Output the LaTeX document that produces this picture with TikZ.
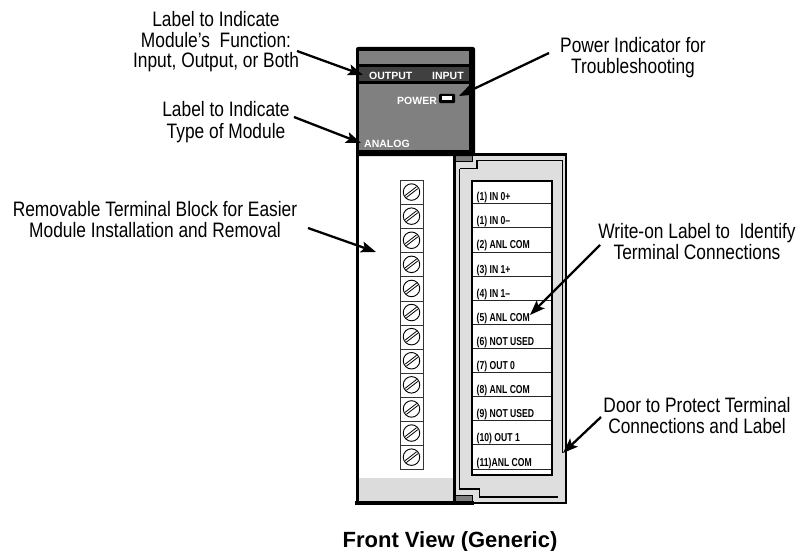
\documentclass[tikz,border=0pt]{standalone}
\usepackage{fontspec}
\setmainfont{Liberation Sans}
\newfontfamily\lblfont[FakeStretch=0.83]{Liberation Sans}
\newfontfamily\cardfont[FakeStretch=0.75]{Liberation Sans}
\usetikzlibrary{arrows.meta}
\definecolor{modgray}{HTML}{808080}
\definecolor{banddark}{HTML}{404040}
\definecolor{doorgray}{HTML}{DEDEDE}
\definecolor{basegray}{HTML}{DCDCDC}
\tikzset{
  callout/.style={inner sep=0pt,align=center,anchor=base,font=\lblfont\fontsize{20.9}{21}\selectfont,text=black},
  leader/.style={line width=2.3pt,-{Stealth[length=15pt,width=11pt,inset=3pt]},black},
  paneltext/.style={inner sep=0pt,anchor=base west,text=white,font=\bfseries\fontsize{10.5}{12}\selectfont},
  cardtext/.style={inner sep=0pt,anchor=base west,text=black,font=\cardfont\bfseries\fontsize{11.5}{12}\selectfont},
  rowline/.style={line width=1pt,black!85},
  screwbox/.style={draw=black!80,line width=0.9pt,fill=white,minimum width=23pt,minimum height=24.1pt,inner sep=0pt,anchor=north west},
  screwhead/.style={draw=black,line width=0.9pt,circle,minimum size=16.5pt,inner sep=0pt},
  screwslot/.style={line width=0.8pt,black}
}
\begin{document}
\begin{tikzpicture}[x=1pt,y=-1pt]
\useasboundingbox (0,0) rectangle (801,551);
\fill[white] (0,0) rectangle (801,551);
% door
\filldraw[fill=doorgray,draw=black,line width=2.2pt] (455,154.5) -- (566,154.5) -- (566,503) -- (455,503) -- cycle;
\draw[black,line width=1.6pt] (459.5,168.5) -- (477,168.5) -- (477,160.5) -- (562.5,160.5);
\draw[black,line width=1pt] (562.5,160.5) -- (562.5,453);
\draw[black,line width=1.6pt] (558,497) -- (479.5,497) -- (479.5,489) -- (459.5,489) -- (459.5,168.5);
% module body
\fill[white] (357,155) rectangle (453,503);
\fill[basegray] (359,478) rectangle (453,501);
\draw[black,line width=1.4pt] (454,155) -- (454,503);
\draw[black,line width=3pt] (357.5,150) -- (357.5,503);
% hinges
\filldraw[fill=modgray,draw=black,line width=1pt] (455,155) rectangle (472,161);
\filldraw[fill=modgray,draw=black,line width=1pt] (455,495) rectangle (472,501);
\draw[black,line width=4pt] (355,503) -- (474,503);
% top panel
\fill[black,rounded corners=2pt] (356,47) rectangle (475,156);
\fill[modgray] (359,51) rectangle (469,150);
\fill[black] (359,64) rectangle (469,84);
\fill[banddark] (359,67) rectangle (469,81.5);
\node[paneltext] (output) at (369,80) {OUTPUT};
\node[paneltext] (input) at (432,80) {INPUT};
\node[paneltext] (power) at (397,104) {POWER};
\node[paneltext] (analog) at (364,147) {ANALOG};
\node[fill=black,minimum width=16pt,minimum height=9pt,inner sep=0pt,rounded corners=1pt] (led) at (447,98.5) {};
\node[fill=white,minimum width=10.5pt,minimum height=4pt,inner sep=0pt] (ledlamp) at (447,98.5) {};
% terminal block
\foreach \i in {0,...,11} {
  \pgfmathsetmacro{\yy}{180+24.1*\i}
  \pgfmathsetmacro{\cy}{\yy+12.05}
  \node[screwbox] (cell\i) at (400,\yy) {};
  \node[screwhead] (screw\i) at (411.5,\cy) {};
  \draw[screwslot] (405.2,\cy+3.4) -- (416.6,\cy-5.4);
  \draw[screwslot] (406.4,\cy+5.4) -- (417.8,\cy-3.4);
}
% card
\fill[white] (472,180) rectangle (552,475);
\foreach \y in {203.3,227.7,252,276,300,324.3,348.3,372.7,396.7,420.7,444.3,469} {
  \draw[rowline] (472,\y) -- (552,\y);
}
\draw[black,line width=2pt] (472,181) rectangle (552,475);
\foreach \n/\y/\t in {a/200/{(1) IN 0+},b/224.5/{(1) IN 0–},c/248.5/{(2) ANL COM},d/273/{(3) IN 1+},e/297/{(4) IN 1–},f/321/{(5) ANL COM},g/345.5/{(6) NOT USED},h/369.5/{(7) OUT 0},i/393.5/{(8) ANL COM},j/417.5/{(9) NOT USED},k/441/{(10) OUT 1},l/466/{(11)ANL COM}} {
  \node[cardtext] (row\n) at (476.5,\y) {\t};
}
% callouts
\node[callout] (fn) at (216,68) {Label to Indicate\\Module’s\ \ Function:\\Input, Output, or Both};
\node[callout] (ty) at (226,138) {Label to Indicate\\Type of Module};
\node[callout] (rm) at (155,237) {Removable Terminal Block for Easier\\Module Installation and Removal};
\node[callout] (pw) at (633,74) {Power Indicator for\\Troubleshooting};
\node[callout] (wr) at (697,259) {Write-on Label to\ \ Identify\\Terminal Connections};
\node[callout] (dr) at (697,433) {Door to Protect Terminal\\Connections and Label};
\node[inner sep=0pt,anchor=base,font=\bfseries\fontsize{22}{24}\selectfont] (title) at (450,547) {Front View (Generic)};
% leaders
\coordinate (s1) at (297,51); \coordinate (t1) at (363,75);
\coordinate (s2) at (294,117); \coordinate (t2) at (361,143);
\coordinate (s3) at (308,228); \coordinate (t3) at (376,252);
\coordinate (s4) at (549,53); \coordinate (t4) at (459,96);
\coordinate (s5) at (600,245); \coordinate (t5) at (530,315);
\coordinate (s6) at (601,417); \coordinate (t6) at (563,453);
\foreach \k in {1,...,6} { \draw[leader] (s\k) -- (t\k); }
\end{tikzpicture}
\end{document}
